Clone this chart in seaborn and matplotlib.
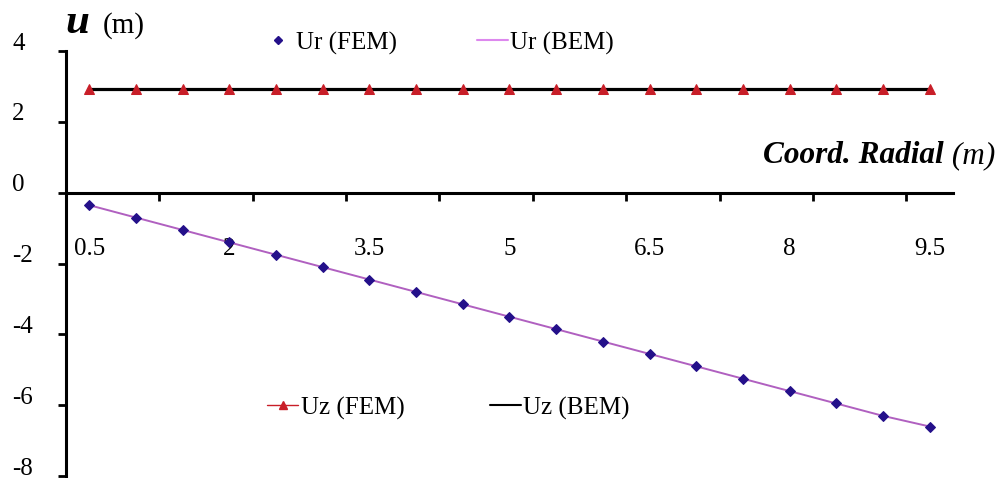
import numpy as np
import pandas as pd
import matplotlib
matplotlib.use('Agg')
import matplotlib.pyplot as plt
import matplotlib.transforms as mtransforms
from matplotlib.lines import Line2D
import seaborn as sns

radial = [0.5, 1.0, 1.5, 2.0, 2.5, 3.0, 3.5, 4.0, 4.5, 5.0,
          5.5, 6.0, 6.5, 7.0, 7.5, 8.0, 8.5, 9.0, 9.5]
ur_fem = [-0.35, -0.70, -1.05, -1.40, -1.75, -2.10, -2.45, -2.80, -3.15, -3.50,
          -3.85, -4.20, -4.55, -4.90, -5.25, -5.60, -5.95, -6.30, -6.60]
ur_bem = [-0.35, -0.70, -1.05, -1.40, -1.75, -2.10, -2.45, -2.80, -3.15, -3.50,
          -3.85, -4.20, -4.55, -4.90, -5.25, -5.60, -5.95, -6.30, -6.60]
uz_fem = [2.93, 2.93, 2.93, 2.93, 2.93, 2.93, 2.93, 2.93, 2.93, 2.93,
          2.93, 2.93, 2.93, 2.93, 2.93, 2.93, 2.93, 2.93, 2.93]
uz_bem = [2.93, 2.93, 2.93, 2.93, 2.93, 2.93, 2.93, 2.93, 2.93, 2.93,
          2.93, 2.93, 2.93, 2.93, 2.93, 2.93, 2.93, 2.93, 2.93]
x_labels = ['0.5', '2', '3.5', '5', '6.5', '8', '9.5']
y_ticks = [4, 2, 0, -2, -4, -6, -8]

navy = '#24108a'
pink = '#b060c0'
red = '#c81e28'

sns.set_style('ticks')
plt.rcParams['font.family'] = ['Liberation Serif', 'DejaVu Serif']
plt.rcParams['axes.unicode_minus'] = False
plt.rcParams['text.color'] = 'black'

df = pd.DataFrame({'pos': np.arange(len(radial)), 'r': radial,
                   'ur_fem': ur_fem, 'ur_bem': ur_bem,
                   'uz_fem': uz_fem, 'uz_bem': uz_bem})

fig = plt.figure(figsize=(9.99, 4.78), dpi=100)
ax = fig.add_axes([0.066, 0.004, 0.888, 0.889])

sns.lineplot(data=df, x='pos', y='ur_bem', color=pink, lw=1.4, ax=ax, zorder=3)
sns.lineplot(data=df, x='pos', y='ur_fem', color=navy, marker='D', markersize=5,
             linestyle='none', markeredgecolor=navy, ax=ax, zorder=4)
sns.lineplot(data=df, x='pos', y='uz_bem', color='black', lw=2.3, ax=ax, zorder=3)
sns.lineplot(data=df, x='pos', y='uz_fem', color=red, marker='^', markersize=7,
             linestyle='none', markeredgecolor=red, ax=ax, zorder=4)

ax.set_xlim(-0.5, len(radial) - 0.5)
ax.set_ylim(-8, 4)
ax.set_xlabel('')
ax.set_ylabel('')
ax.spines['bottom'].set_position(('data', 0))
ax.spines[['top', 'right']].set_visible(False)
ax.spines[['left', 'bottom']].set_linewidth(2.2)
ax.spines[['left', 'bottom']].set_color('black')

ax.set_xticks(np.arange(-0.5, len(radial) - 1, 2))
ax.set_xticklabels([])
ax.set_yticks(y_ticks)
ax.tick_params(axis='both', direction='out', length=5.8, width=2, color='black')
ax.tick_params(axis='y', pad=33, labelsize=18, labelcolor='black')
up = mtransforms.ScaledTranslation(0, 10 / 100, fig.dpi_scale_trans)
for lbl in ax.get_yticklabels():
    lbl.set_ha('left')
    lbl.set_transform(lbl.get_transform() + up)

# category labels placed under the axis
for lbl in x_labels:
    pos = radial.index(float(lbl))
    ax.text(pos, -1.6, lbl, ha='center', va='center', fontsize=18, color='black')

# axis titles
fig.text(65 / 999, 1 - 33 / 478, 'u', fontsize=31, weight='bold',
         style='italic', va='baseline', color='black')
fig.text(103 / 999, 1 - 33 / 478, '(m)', fontsize=21, va='baseline', color='black')
t_c = fig.text(763 / 999, 1 - 163 / 478, 'Coord. Radial', fontsize=22.5,
               weight='bold', style='italic', va='baseline', color='black')
ax.annotate(' (m)', xy=(1, 0), xycoords=t_c, fontsize=22.5, style='italic',
            va='bottom', ha='left', annotation_clip=False, color='black')

# legends
h_ur_fem = Line2D([], [], color=navy, marker='D', markersize=4, linestyle='none')
h_ur_bem = Line2D([], [], color='#dd88ee', lw=1.5)
h_uz_fem = Line2D([], [], color=red, lw=1, marker='^', markersize=6)
h_uz_bem = Line2D([], [], color='black', lw=1.5)

for handles, names, anchor, spacing in [
        ([h_ur_fem, h_ur_bem], ['Ur (FEM)', 'Ur (BEM)'], (262 / 999, 1 - 43 / 478), 3.2),
        ([h_uz_fem, h_uz_bem], ['Uz (FEM)', 'Uz (BEM)'], (267 / 999, 1 - 408 / 478), 3.4)]:
    leg = fig.legend(handles, names, loc='center left', bbox_to_anchor=anchor,
                     ncol=2, frameon=False, fontsize=18, handlelength=1.25,
                     handletextpad=0.1, columnspacing=spacing, borderpad=0,
                     borderaxespad=0)
    for t in leg.get_texts():
        t.set_color('black')

fig.savefig('out.png', dpi=100)
